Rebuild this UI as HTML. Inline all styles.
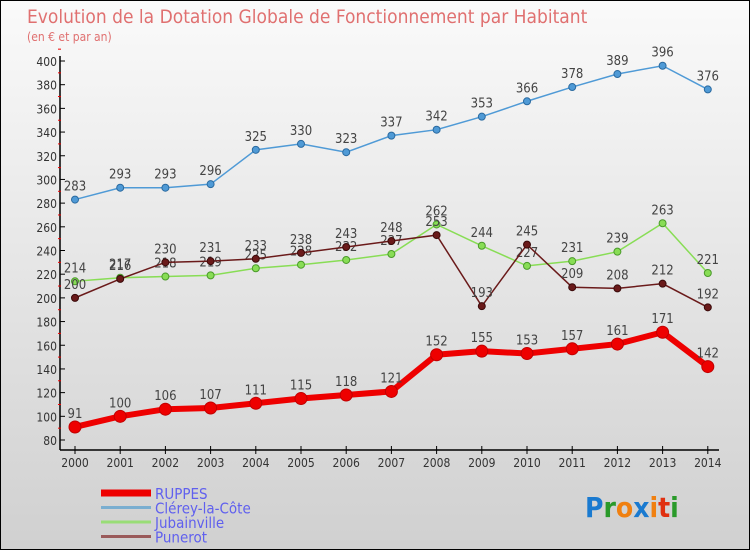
<!DOCTYPE html>
<html><head><meta charset="utf-8"><style>
body{margin:0}
#wrap{width:748px;height:548px;border:1px solid #000;background:linear-gradient(#fafafa,#d0d0d0);position:relative;overflow:hidden;font-family:"DejaVu Sans Condensed","Liberation Sans",sans-serif}
</style></head><body>
<div id="wrap">
<svg id="chart" width="748" height="548"></svg>
</div>
<script>
const years=[2000,2001,2002,2003,2004,2005,2006,2007,2008,2009,2010,2011,2012,2013,2014];
const ruppes=[91,100,106,107,111,115,118,121,152,155,153,157,161,171,142];
const clerey=[283,293,293,296,325,330,323,337,342,353,366,378,389,396,376];
const jubainville=[214,217,218,219,225,228,232,237,262,244,227,231,239,263,221];
const punerot=[200,216,230,231,233,238,243,248,253,193,245,209,208,212,192];
const yTicks=[80,100,120,140,160,180,200,220,240,260,280,300,320,340,360,380,400];
const NS="http://www.w3.org/2000/svg";
const svg=document.getElementById('chart');
const x=i=>74+i*45.2;
const y=v=>439-(v-80)*(379/320);
function el(t,a,p){const e=document.createElementNS(NS,t);for(const k in a)e.setAttribute(k,a[k]);(p||svg).appendChild(e);return e;}
function txt(s,a){const e=el('text',a);e.textContent=s;return e;}
let t=txt('Evolution de la Dotation Globale de Fonctionnement par Habitant',{x:26,y:22,'font-size':19,fill:'#e07070'});

t=txt('(en € et par an)',{x:26,y:40,'font-size':12,fill:'#e07070'});

let ax=el('line',{x1:59,y1:55,x2:59,y2:449,stroke:'#000','stroke-width':1.5});

ax=el('line',{x1:59,y1:449,x2:718,y2:449,stroke:'#000','stroke-width':1.5});

yTicks.forEach(v=>{
 el('line',{x1:59,y1:y(v),x2:64,y2:y(v),stroke:'#000'});
 el('line',{x1:57,y1:y(v+10),x2:60,y2:y(v+10),stroke:'#e00'});
 const l=txt(v,{x:56,y:y(v)+5,'font-size':12,fill:'#333','text-anchor':'end'});
 
});
years.forEach((yr,i)=>{
 el('line',{x1:x(i),y1:445,x2:x(i),y2:453,stroke:'#000'});
 const l=txt(yr,{x:x(i),y:466,'font-size':12,fill:'#333','text-anchor':'middle'});
 
});
function series(data,color,dark,w,r,name){
 const g=el('g',{});
 
 el('polyline',{points:data.map((v,i)=>x(i)+','+y(v)).join(' '),fill:'none',stroke:color,'stroke-width':w},g);
 data.forEach((v,i)=>{
  const c=el('circle',{cx:x(i),cy:y(v),r:r,fill:color,stroke:dark,'stroke-width':1},g);
  
  const l=txt(v,{x:x(i),y:y(v)-9,'font-size':13,fill:'#444','text-anchor':'middle'});
  
 });
}
series(clerey,'#4f9ad6','#2a6aa0',1.5,3.5,'clerey');
series(jubainville,'#88dd55','#4a9a2a',1.5,3.5,'jubainville');
series(punerot,'#6a1a1a','#3a0a0a',1.5,3.5,'punerot');
series(ruppes,'#ee0000','#c00000',6,6,'ruppes');
const leg=[['RUPPES','#ee0000',7],['Clérey-la-Côte','#7aaed0',3],['Jubainville','#99dd77',3],['Punerot','#9a5a5a',3]];
leg.forEach((d,i)=>{
 const g=el('g',{});
 const yy=492+i*14.5;
 el('line',{x1:100,y1:yy,x2:150,y2:yy,stroke:d[1],'stroke-width':d[2]},g);
 const l=txt(d[0],{x:154,y:yy+6,'font-size':15,fill:'#6060ee'});g.appendChild(l);
});
const lg=el('g',{});
const lt=el('text',{x:584,y:516,'font-size':28,'font-weight':'bold'},lg);
[['P','#1a7ad0'],['r','#2a9a2a'],['o','#f08010'],['x','#1a7ad0'],['i','#f08010'],['t','#e03010'],['i','#2a9a2a']].forEach(c=>{
 const s=document.createElementNS(NS,'tspan');s.setAttribute('fill',c[1]);s.textContent=c[0];lt.appendChild(s);
});
</script>
</body></html>
